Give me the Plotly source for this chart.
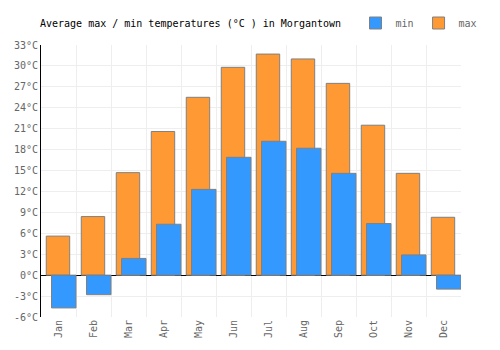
import plotly.graph_objects as go

months = ["Jan", "Feb", "Mar", "Apr", "May", "Jun", "Jul", "Aug", "Sep", "Oct", "Nov", "Dec"]
max_temps = [5.6, 8.4, 14.7, 20.6, 25.5, 29.8, 31.7, 31.0, 27.5, 21.5, 14.6, 8.3]
min_temps = [-4.7, -2.8, 2.4, 7.3, 12.3, 16.9, 19.2, 18.2, 14.6, 7.4, 2.9, -2.0]
y_ticks = list(range(-6, 34, 3))
y_labels = [f"{v}°C" for v in y_ticks]

FONT = "DejaVu Sans Mono"

fig = go.Figure()
fig.add_trace(go.Bar(
    x=months, y=max_temps, name="max",
    marker=dict(color="#ff9933", line=dict(color="#808080", width=1)),
    offset=-0.35, width=0.67, legendrank=2,
))
fig.add_trace(go.Bar(
    x=months, y=min_temps, name="min",
    marker=dict(color="#3399ff", line=dict(color="#808080", width=1)),
    offset=-0.2, width=0.7, legendrank=1,
))

fig.update_layout(
    width=500, height=350,
    margin=dict(l=41, r=39, t=45, b=33, autoexpand=False),
    barmode="overlay",
    paper_bgcolor="white", plot_bgcolor="white",
    font=dict(family=FONT, size=10, color="#666666"),
    title=dict(
        text="Average max / min temperatures (°C ) in Morgantown",
        font=dict(family=FONT, size=10, color="#000000"),
        xref="container", x=0.08, xanchor="left",
        yref="container", y=1 - 23 / 350, yanchor="middle",
    ),
    legend=dict(
        orientation="h",
        xref="container", yref="container",
        x=0.711, xanchor="left", y=1 - 23 / 350, yanchor="middle",
        font=dict(family=FONT, size=10, color="#666666"),
        itemwidth=30, bgcolor="rgba(0,0,0,0)",
    ),
    showlegend=True,
    xaxis=dict(
        type="category", tickson="boundaries",
        showgrid=True, gridcolor="#eeeeee", gridwidth=1,
        ticks="", tickangle=-90,
        range=[-0.5, 11.5],
        showline=False, zeroline=False,
        tickfont=dict(family=FONT, size=10, color="#666666"),
    ),
    yaxis=dict(
        range=[-6, 33], tickvals=y_ticks, ticktext=y_labels,
        showgrid=True, gridcolor="#eeeeee", gridwidth=1,
        zeroline=True, zerolinecolor="#000000", zerolinewidth=1,
        showline=True, linecolor="#000000", linewidth=1,
        ticks="", layer="above traces",
        tickfont=dict(family=FONT, size=10, color="#666666"),
    ),
)

fig.write_html("out.html")
